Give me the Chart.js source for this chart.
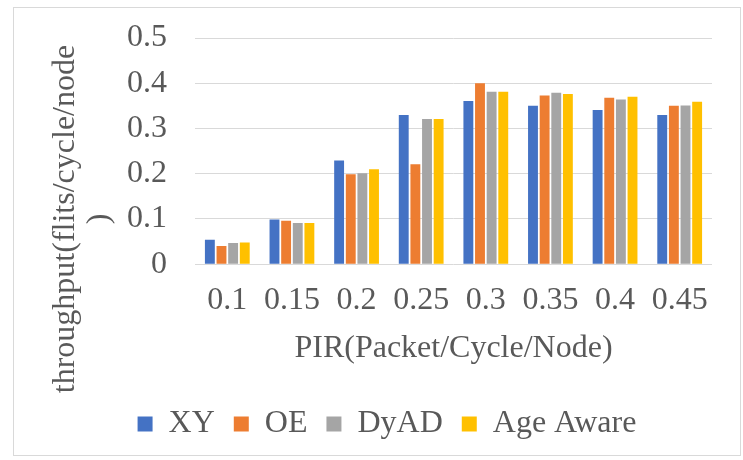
<!DOCTYPE html>
<html>
<head>
<meta charset="utf-8">
<script src="https://cdn.jsdelivr.net/npm/chart.js@4/dist/chart.umd.min.js"></script>
<style>
  html, body { margin: 0; padding: 0; background: #fff; }
  #wrap { width: 743px; height: 460px; position: relative; }
</style>
</head>
<body>
<div id="wrap"><canvas id="chart" width="743" height="460"></canvas></div>
<script>
// data
const pirLabels = ["0.1", "0.15", "0.2", "0.25", "0.3", "0.35", "0.4", "0.45"];
const xyValues = [0.054, 0.099, 0.229, 0.330, 0.361, 0.350, 0.341, 0.330];
const oeValues = [0.040, 0.096, 0.199, 0.221, 0.400, 0.373, 0.368, 0.350];
const dyadValues = [0.047, 0.091, 0.201, 0.321, 0.381, 0.379, 0.364, 0.351];
const ageAwareValues = [0.048, 0.091, 0.210, 0.321, 0.381, 0.376, 0.370, 0.359];
const yTickLabels = ["0", "0.1", "0.2", "0.3", "0.4", "0.5"];
const yTitleLines = ["throughput(flits/cycle/node", ")"];

const serif = "'Liberation Serif', 'Times New Roman', serif";
const textGray = "#595959";
const gridGray = "#d9d9d9";

// light grey frame round the whole chart, like the Excel chart area
const frame = {
  id: "frame",
  beforeDraw(chart) {
    const ctx = chart.ctx;
    ctx.save();
    ctx.fillStyle = "#fff";
    ctx.fillRect(0, 0, chart.width, chart.height);
    ctx.strokeStyle = gridGray;
    ctx.lineWidth = 1;
    ctx.strokeRect(13.5, 7.5, 727, 448);
    ctx.restore();
  }
};

// y title is wrapped by Excel and centred on the whole chart, not on the plot,
// so it is drawn here instead of by the scale
const yTitle = {
  id: "yTitle",
  afterDraw(chart) {
    const ctx = chart.ctx;
    ctx.save();
    ctx.fillStyle = textGray;
    ctx.font = "32px " + serif;
    ctx.textAlign = "center";
    ctx.textBaseline = "middle";
    yTitleLines.forEach((line, i) => {
      ctx.save();
      ctx.translate(66 + i * 34, 219);
      ctx.rotate(-Math.PI / 2);
      ctx.fillText(line, 0, 0);
      ctx.restore();
    });
    ctx.restore();
  }
};

const makeSet = (label, data, color) => ({
  label: label,
  data: data,
  backgroundColor: color,
  borderWidth: 0,
  categoryPercentage: 0.72,
  barPercentage: 0.85
});

new Chart(document.getElementById("chart").getContext("2d"), {
  type: "bar",
  data: {
    labels: pirLabels,
    datasets: [
      makeSet("XY", xyValues, "#4472C4"),
      makeSet("OE", oeValues, "#ED7D31"),
      makeSet("DyAD", dyadValues, "#A5A5A5"),
      makeSet("Age Aware", ageAwareValues, "#FFC000")
    ]
  },
  options: {
    responsive: false,
    animation: false,
    devicePixelRatio: 1,
    layout: { padding: { left: 31, right: 0, top: 38, bottom: 10 } },
    plugins: {
      tooltip: { enabled: false },
      legend: {
        position: "bottom",
        labels: {
          boxWidth: 15,
          boxHeight: 15,
          padding: 19,
          color: textGray,
          font: { family: serif, size: 32 }
        }
      }
    },
    scales: {
      x: {
        grid: { display: false, drawTicks: false },
        border: { display: false },
        ticks: {
          color: textGray,
          padding: 17,
          font: { family: serif, size: 32 }
        },
        title: {
          display: true,
          text: "PIR(Packet/Cycle/Node)",
          color: textGray,
          font: { family: serif, size: 32, lineHeight: 1.2 },
          padding: { top: -7, bottom: 21 }
        }
      },
      y: {
        min: 0,
        max: 0.5,
        grid: { color: gridGray, lineWidth: 1, drawTicks: false },
        border: { display: false },
        ticks: {
          stepSize: 0.1,
          color: textGray,
          padding: 28,
          // small lineHeight keeps the top label from pushing the plot down
          font: { family: serif, size: 32, lineHeight: 0.6 },
          callback: (value, index) => yTickLabels[index]
        },
        afterFit: (scale) => { scale.width = 164; }
      },
      // empty spacer on the right so the plot stops where Excel's does
      yRight: {
        position: "right",
        grid: { display: false },
        border: { display: false },
        ticks: { display: false },
        afterFit: (scale) => { scale.width = 31; }
      }
    }
  },
  plugins: [frame, yTitle]
});
</script>
</body>
</html>
